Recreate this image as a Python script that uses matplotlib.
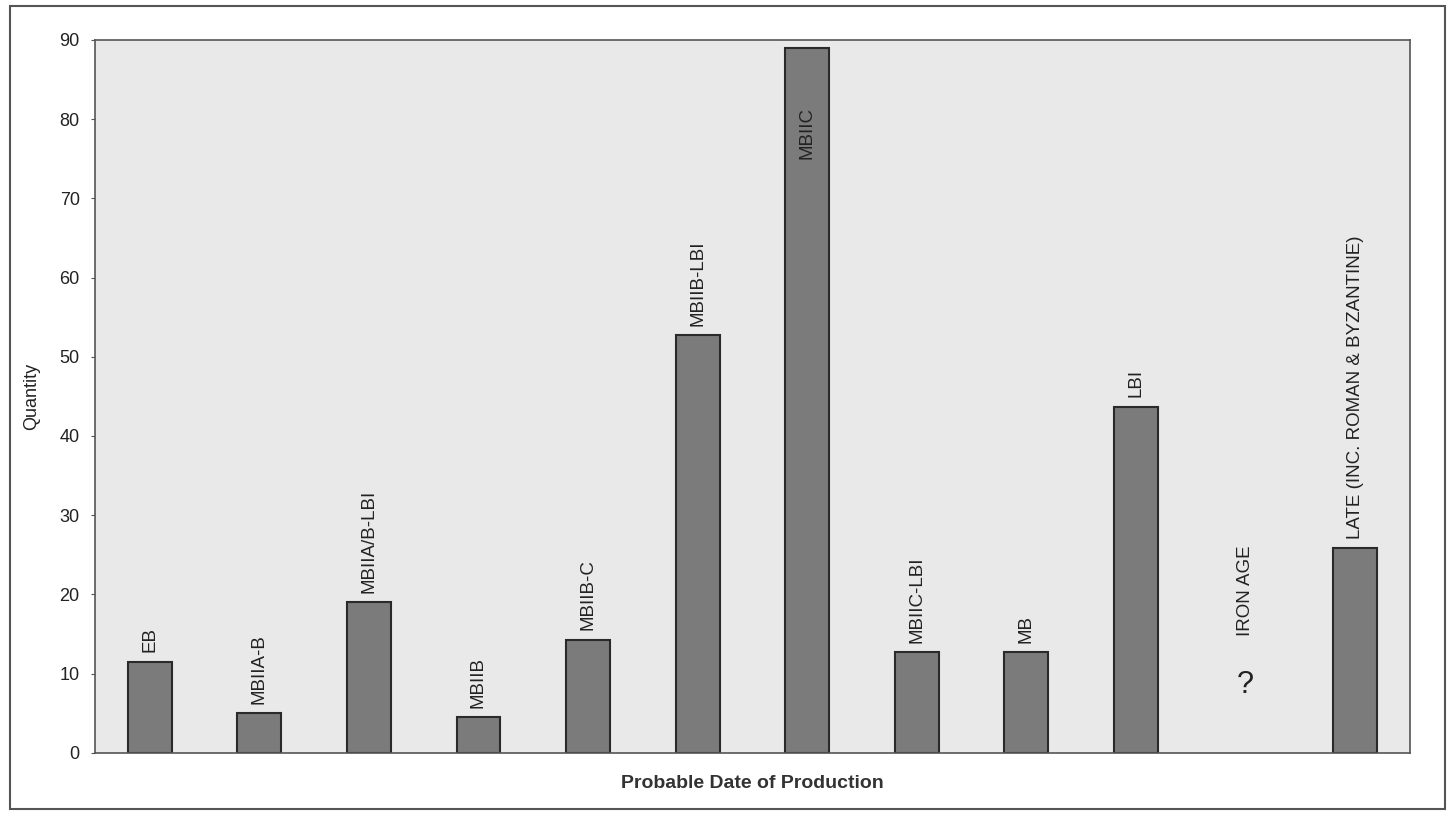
import matplotlib
matplotlib.use("Agg")
import matplotlib.pyplot as plt
import numpy as np

# bar data (IRON AGE has no bar, only a "?")
periods = ['EB', 'MBIIA-B', 'MBIIA/B-LBI', 'MBIIB', 'MBIIB-C', 'MBIIB-LBI',
           'MBIIC', 'MBIIC-LBI', 'MB', 'LBI', 'IRON AGE',
           'LATE (INC. ROMAN & BYZANTINE)']
quantity = [11.5, 5.0, 19.0, 4.5, 14.3, 52.7, 89.0, 12.7, 12.7, 43.7, 0.0, 25.8]
yticks = [0, 10, 20, 30, 40, 50, 60, 70, 80, 90]

plt.rcParams['font.family'] = ['Liberation Sans', 'DejaVu Sans']

fig = plt.figure(figsize=(14.54, 8.13), dpi=100)
fig.patch.set_facecolor('white')

# outer frame round the whole figure
frame = plt.Rectangle((0.007, 0.005), 0.987, 0.988, transform=fig.transFigure,
                      fill=False, edgecolor='#555555', linewidth=1.5)
fig.patches.append(frame)

ax = fig.add_axes([0.0653, 0.074, 0.9044, 0.877])
ax.set_facecolor('#e9e9e9')

ind = np.arange(len(periods))
vals = np.array(quantity)
has_bar = vals > 0
ax.bar(ind[has_bar], vals[has_bar], 0.4, color='#7b7b7b', edgecolor='#2a2a2a',
       linewidth=1.5)

for i, (name, val) in enumerate(zip(periods, quantity)):
    if val == 0:
        ax.text(i, 14.7, name, rotation=90, ha='center', va='bottom',
                fontsize=13.5, color='#222222')
        ax.text(i, 8.5, '?', ha='center', va='center', fontsize=22,
                color='#222222')
    elif val > 80:
        # label does not fit above, put it inside the bar
        ax.text(i, val - 7.5, name, rotation=90, ha='center', va='top',
                fontsize=13.5, color='#222222')
    else:
        ax.text(i, val + 1.2, name, rotation=90, ha='center', va='bottom',
                fontsize=13.5, color='#222222')

ax.set_xlim(-0.5, len(periods) - 0.5)
ax.set_ylim(0, 90)
ax.set_yticks(yticks)
ax.set_xticks([])
ax.tick_params(axis='y', labelsize=13, length=3, color='#555555',
               labelcolor='#222222', pad=8)
for s in ax.spines.values():
    s.set_color('#555555')
    s.set_linewidth(1.2)

ax.set_ylabel('Quantity', fontsize=13, color='#222222', labelpad=14)
ax.set_xlabel('Probable Date of Production', fontsize=14, fontweight='bold',
              color='#333333', labelpad=16)

plt.savefig('out.png', dpi=100)
